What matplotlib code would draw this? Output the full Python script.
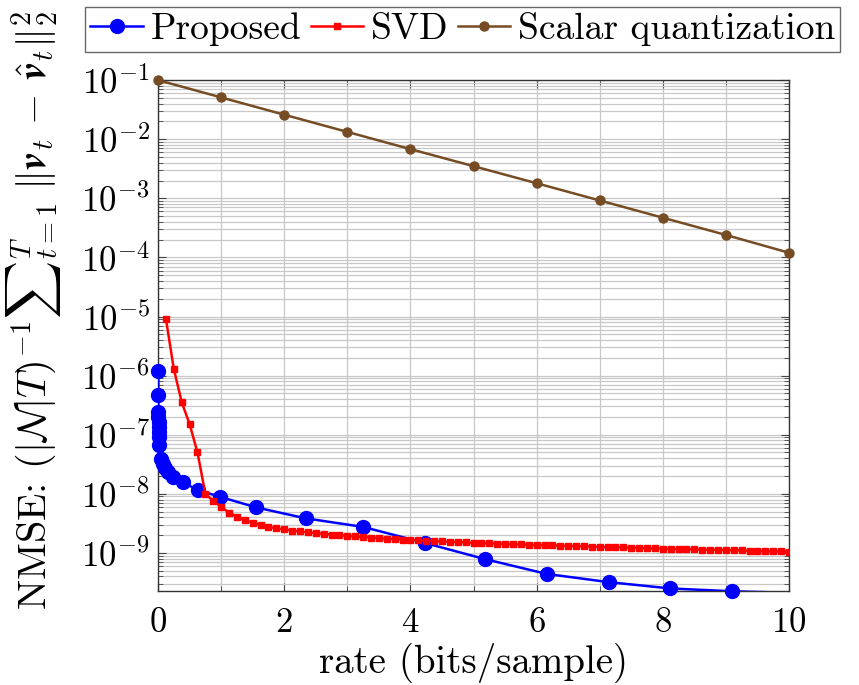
import numpy as np
import matplotlib
matplotlib.use("Agg")
import matplotlib.pyplot as plt
from matplotlib.lines import Line2D
from matplotlib.ticker import LogLocator, MultipleLocator, NullFormatter

plt.rcParams['font.family'] = 'serif'
plt.rcParams['font.serif'] = ['cmr10']
plt.rcParams['mathtext.fontset'] = 'cm'
plt.rcParams['axes.formatter.use_mathtext'] = True

# Proposed scheme: rate vs NMSE
prop_rate = [0.005, 0.005, 0.005, 0.006, 0.008, 0.011, 0.016, 0.021, 0.021, 0.043,
             0.074, 0.11, 0.15, 0.24, 0.39, 0.64, 0.98, 1.55, 2.34, 3.25,
             4.23, 5.18, 6.16, 7.14, 8.12, 9.1, 10.1]
prop_nmse = [1.2e-6, 4.7e-7, 2.45e-7, 2.02e-7, 1.66e-7, 1.36e-7, 1.12e-7, 9.2e-8, 6.6e-8, 3.95e-8,
             3.25e-8, 2.68e-8, 2.35e-8, 1.93e-8, 1.56e-8, 1.15e-8, 8.9e-9, 5.9e-9, 3.84e-9, 2.75e-9,
             1.47e-9, 7.85e-10, 4.4e-10, 3.2e-10, 2.5e-10, 2.24e-10, 2.1e-10]

# SVD baseline, one point every 1/8 bit
svd_rate = np.arange(1, 81) * 0.125
svd_nmse = np.array([
    9100, 1290, 355, 151, 50, 9.9, 7.6, 6.0, 4.8, 4.1,
    3.6, 3.23, 2.96, 2.77, 2.60, 2.50, 2.39, 2.30, 2.23, 2.16,
    2.10, 2.04, 1.99, 1.95, 1.90, 1.86, 1.82, 1.78, 1.74, 1.71,
    1.68, 1.65, 1.63, 1.60, 1.58, 1.56, 1.54, 1.52, 1.50, 1.48,
    1.465, 1.45, 1.435, 1.42, 1.405, 1.39, 1.375, 1.36, 1.35, 1.34,
    1.325, 1.31, 1.30, 1.29, 1.28, 1.265, 1.255, 1.245, 1.235, 1.225,
    1.215, 1.205, 1.195, 1.185, 1.175, 1.165, 1.155, 1.145, 1.137, 1.129,
    1.121, 1.113, 1.105, 1.097, 1.089, 1.081, 1.073, 1.065, 1.057, 1.05]) * 1e-9

# scalar quantization
sq_rate = [0, 1, 2, 3, 4, 5, 6, 7, 8, 9, 10]
sq_nmse = [1e-1, 5.1e-2, 2.6e-2, 1.33e-2, 6.8e-3, 3.5e-3, 1.8e-3, 9.2e-4, 4.7e-4, 2.4e-4, 1.2e-4]

blue, red, brown = '#0000FF', '#FF0000', '#754C24'

fig = plt.figure(figsize=(8.59, 6.85), dpi=100)
ax = fig.add_axes([0.184, 0.137, 0.7345, 0.746])

# lines are clipped to the axes, markers are allowed to overhang the frame
ax.plot(prop_rate, prop_nmse, '-', color=blue, lw=1.8, zorder=3)
ax.plot(prop_rate[:-1], prop_nmse[:-1], 'o', color=blue, ms=10, zorder=3, clip_on=False)
ax.plot(svd_rate, svd_nmse, '-s', color=red, lw=1.8, ms=4, zorder=4)
ax.plot(sq_rate, sq_nmse, '-', color=brown, lw=1.8, zorder=3)
ax.plot(sq_rate, sq_nmse, 'o', color=brown, ms=6.5, zorder=3, clip_on=False)

ax.set_yscale('log')
ax.set_xlim(0, 10)
ax.set_ylim(2.25e-10, 1e-1)

ax.xaxis.set_major_locator(MultipleLocator(2))
ax.xaxis.set_minor_locator(MultipleLocator(1))
ax.yaxis.set_major_locator(LogLocator(base=10, numticks=20))
ax.yaxis.set_minor_locator(LogLocator(base=10, subs=np.arange(2, 10), numticks=20))
ax.yaxis.set_minor_formatter(NullFormatter())

ax.grid(True, which='both', color='#c8c8c8', lw=0.9)
ax.set_axisbelow(True)
ax.tick_params(which='both', direction='in', top=True, right=True, color='#444444')
ax.tick_params(which='major', length=6, labelsize=25)
ax.tick_params(axis='x', which='major', pad=12)
ax.tick_params(axis='y', which='major', pad=6)
ax.tick_params(which='minor', length=3.5)
for s in ax.spines.values():
    s.set_color('#333333')
    s.set_linewidth(1.0)

ax.set_xlabel('rate (bits/sample)', fontsize=28, labelpad=2)
ax.set_ylabel(r'NMSE: $(|\mathcal{N}|T)^{-1}{\sum}_{t=1}^{T}\;\|\mathbfit{v}_t\,-\,\hat{\mathbfit{v}}_t\|_2^2$',
              fontsize=29)
ax.yaxis.set_label_coords(-0.150, 0.55)

handles = [Line2D([], [], color=blue, lw=1.8, marker='o', ms=10),
           Line2D([], [], color=red, lw=1.8, marker='s', ms=4),
           Line2D([], [], color=brown, lw=1.8, marker='o', ms=6.5)]
ax.legend(handles, ['Proposed', 'SVD', 'Scalar quantization'],
          loc='lower left', bbox_to_anchor=(-0.116, 1.055), ncol=3, fontsize=27,
          frameon=True, fancybox=False, edgecolor='#444444', handlelength=1.4,
          handletextpad=0.2, columnspacing=0.25, borderpad=0.15, borderaxespad=0)

fig.savefig('out.png', dpi=100)
